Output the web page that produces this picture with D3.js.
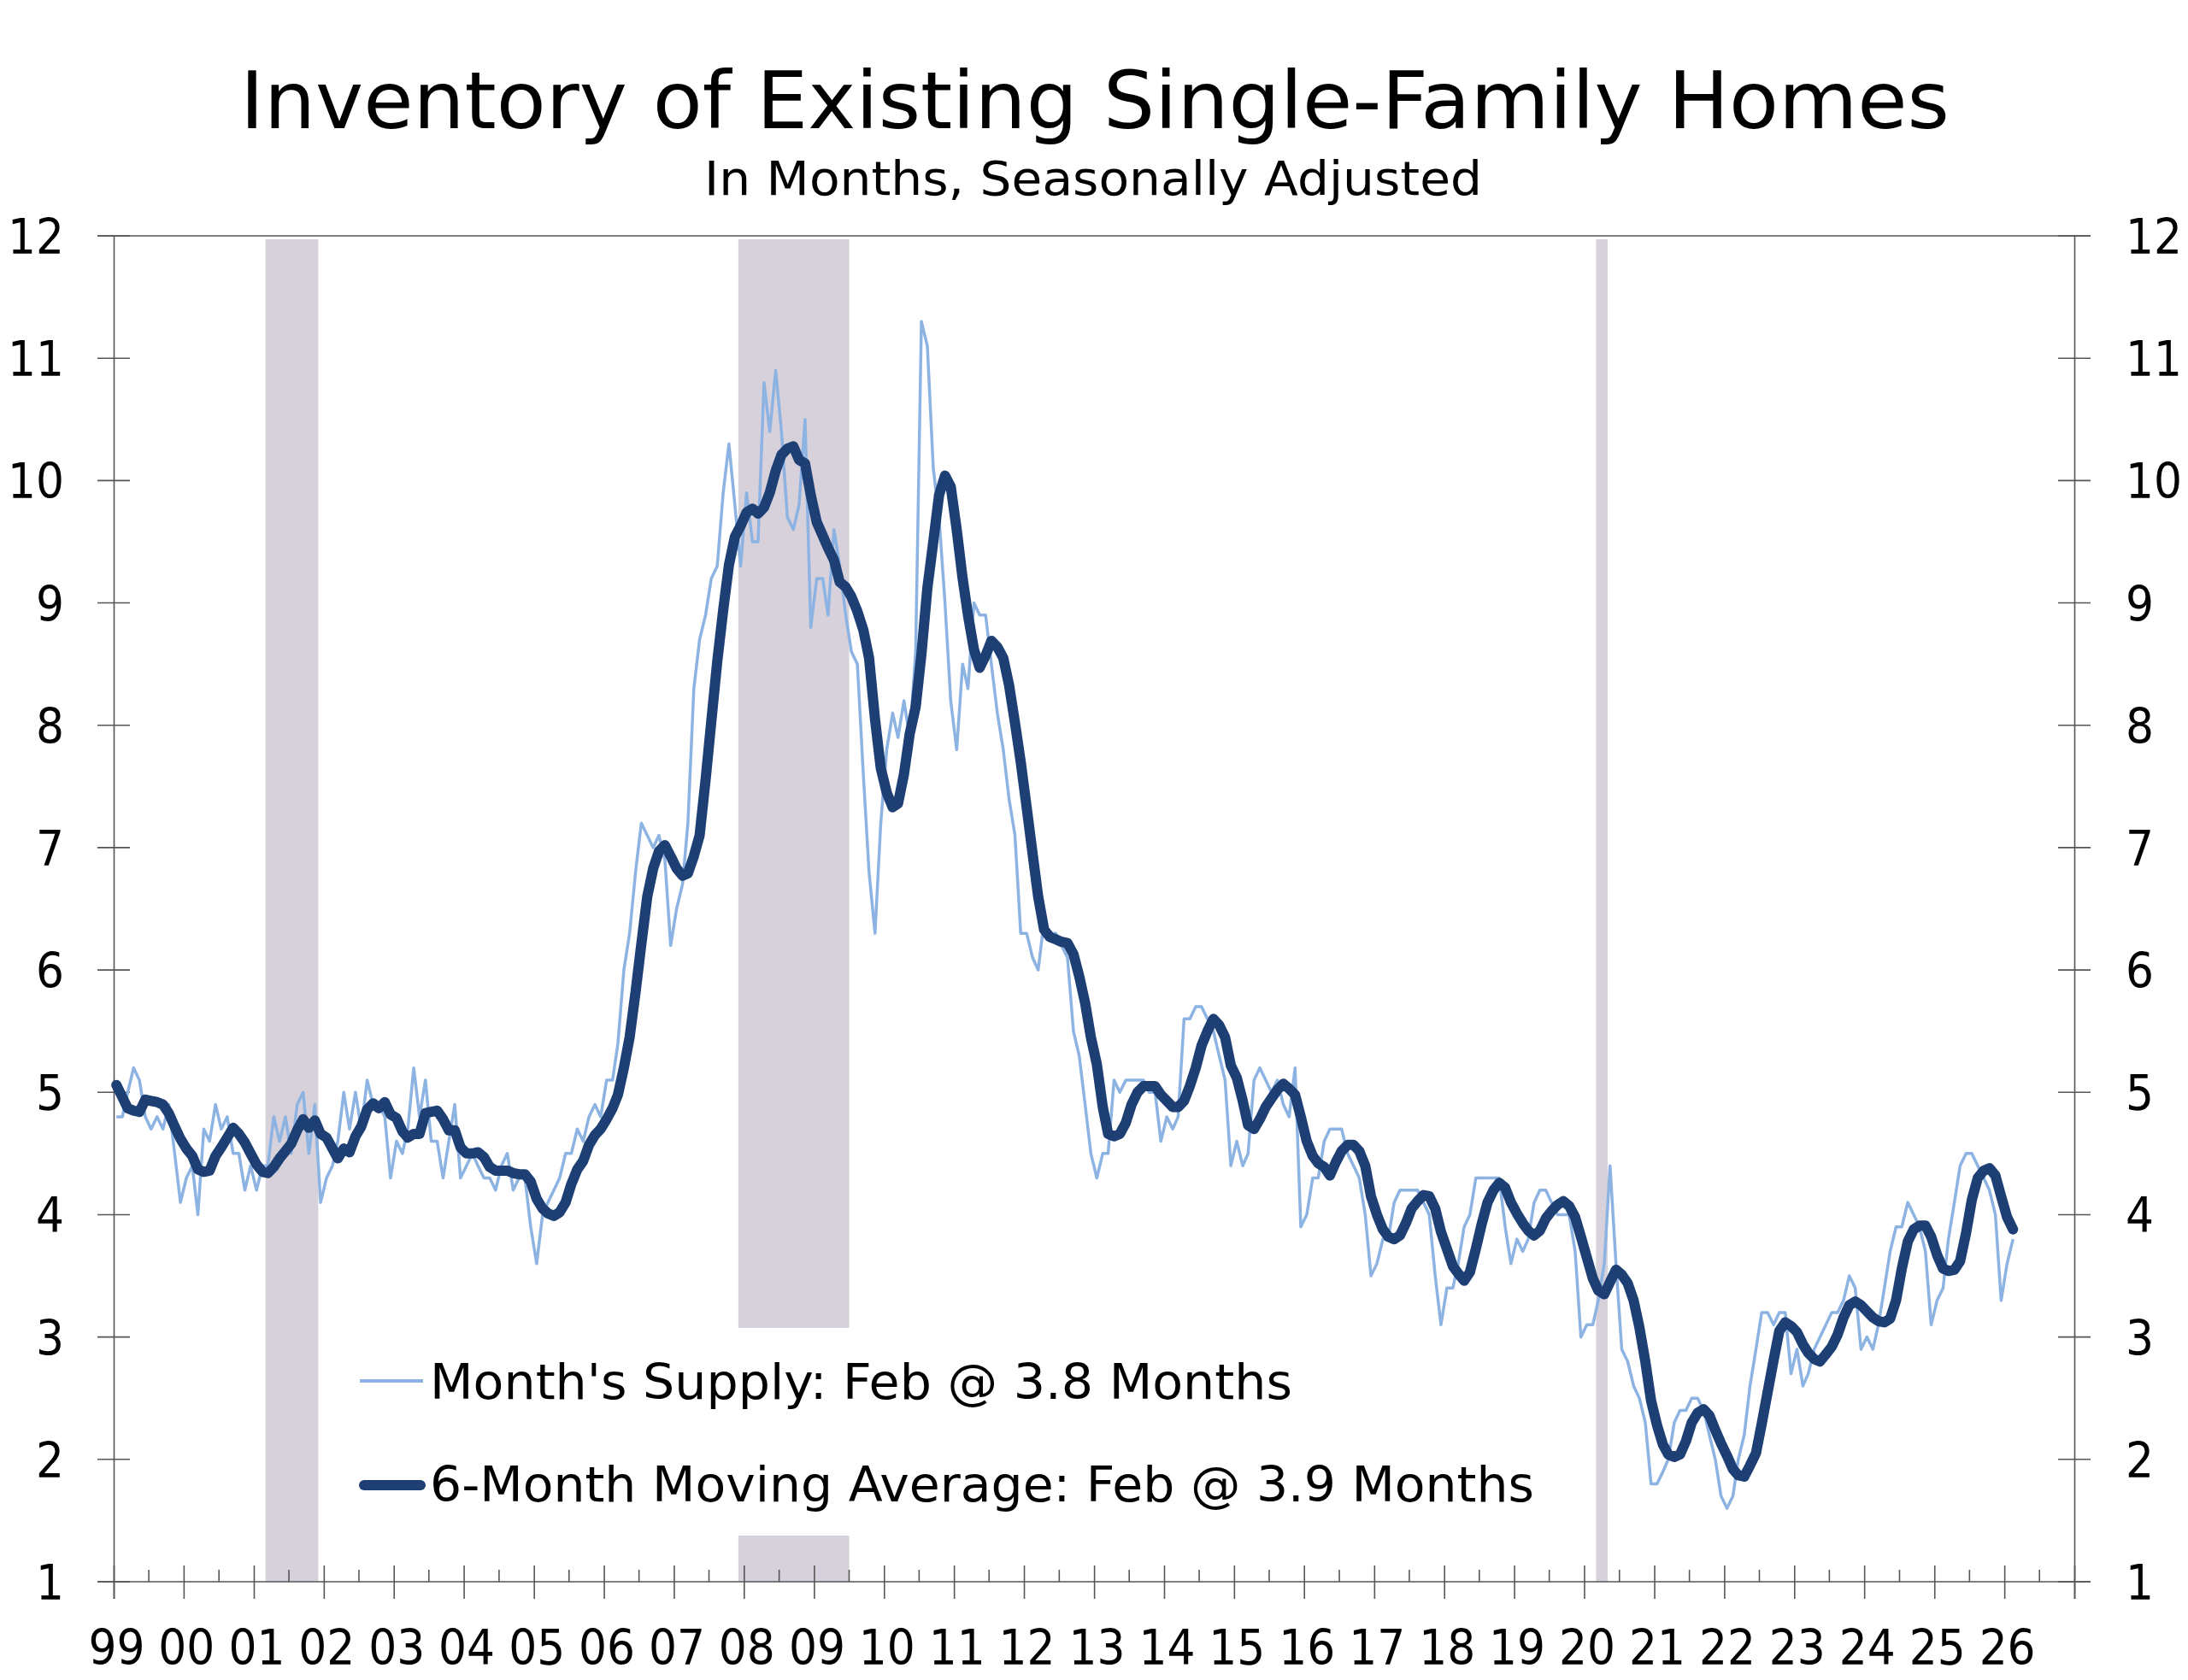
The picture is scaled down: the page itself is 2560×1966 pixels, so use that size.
<!DOCTYPE html>
<html><head><meta charset="utf-8">
<script src="https://cdn.jsdelivr.net/npm/d3@7"></script>
<style>
html,body{margin:0;padding:0;background:#fff;}
svg{display:block;font-family:"DejaVu Sans",Verdana,sans-serif;}
</style></head><body>
<svg id="chart" width="2560" height="1966"></svg>
<script>
const startYear = 1999;
const titleText = "Inventory of Existing Single-Family Homes";
const subtitleText = "In Months, Seasonally Adjusted";
const legendSupply = "Month's Supply: Feb @ 3.8 Months";
const legendAvg = "6-Month Moving Average: Feb @ 3.9 Months";

// Monthly months' supply, Jan 1999 - Feb 2026
const monthsSupply = [
 4.8,4.8,5.0,5.2,5.1,4.8,4.7,4.8,4.7,4.9,4.5,4.1,
 4.3,4.4,4.0,4.7,4.6,4.9,4.7,4.8,4.5,4.5,4.2,4.4,
 4.2,4.4,4.4,4.8,4.6,4.8,4.5,4.9,5.0,4.5,4.9,4.1,
 4.3,4.4,4.6,5.0,4.7,5.0,4.7,5.1,4.9,4.9,4.8,4.3,
 4.6,4.5,4.7,5.2,4.8,5.1,4.6,4.6,4.3,4.6,4.9,4.3,
 4.4,4.5,4.4,4.3,4.3,4.2,4.4,4.5,4.2,4.3,4.3,3.9,
 3.6,4.0,4.1,4.2,4.3,4.5,4.5,4.7,4.6,4.8,4.9,4.8,
 5.1,5.1,5.4,6.0,6.3,6.8,7.2,7.1,7.0,7.1,6.9,6.2,
 6.5,6.7,7.2,8.3,8.7,8.9,9.2,9.3,9.9,10.3,9.8,9.3,
 9.9,9.5,9.5,10.8,10.4,10.9,10.4,9.7,9.6,9.8,10.5,8.8,
 9.2,9.2,8.9,9.6,9.3,8.9,8.6,8.5,7.6,6.8,6.3,7.2,
 7.8,8.1,7.9,8.2,7.9,8.6,11.3,11.1,10.1,9.7,9.0,8.2,
 7.8,8.5,8.3,9.0,8.9,8.9,8.5,8.1,7.8,7.4,7.1,6.3,
 6.3,6.1,6.0,6.4,6.3,6.3,6.2,6.1,5.5,5.3,4.9,4.5,
 4.3,4.5,4.5,5.1,5.0,5.1,5.1,5.1,5.1,5.0,5.0,4.6,
 4.8,4.7,4.8,5.6,5.6,5.7,5.7,5.6,5.5,5.3,5.1,4.4,
 4.6,4.4,4.5,5.1,5.2,5.1,5.0,5.1,4.9,4.8,5.2,3.9,
 4.0,4.3,4.3,4.6,4.7,4.7,4.7,4.5,4.4,4.3,4.0,3.5,
 3.6,3.8,3.8,4.1,4.2,4.2,4.2,4.2,4.1,4.0,3.5,3.1,
 3.4,3.4,3.6,3.9,4.0,4.3,4.3,4.3,4.3,4.3,3.9,3.6,
 3.8,3.7,3.8,4.1,4.2,4.2,4.1,4.0,4.0,4.0,3.7,3.0,
 3.1,3.1,3.3,3.6,4.4,3.6,2.9,2.8,2.6,2.5,2.3,1.8,
 1.8,1.9,2.0,2.3,2.4,2.4,2.5,2.5,2.4,2.2,2.0,1.7,
 1.6,1.7,2.0,2.2,2.6,2.9,3.2,3.2,3.1,3.2,3.2,2.7,
 2.9,2.6,2.7,2.9,3.0,3.1,3.2,3.2,3.3,3.5,3.4,2.9,
 3.0,2.9,3.1,3.4,3.7,3.9,3.9,4.1,4.0,3.9,3.7,3.1,
 3.3,3.4,3.8,4.1,4.4,4.5,4.5,4.4,4.3,4.2,4.0,3.3,
 3.6,3.8
];

// 6-month moving average as drawn, Jan 1999 - Feb 2026
const movingAverage = [
 5.06,4.96,4.87,4.85,4.84,4.94,4.93,4.92,4.90,4.83,4.72,4.62,
 4.54,4.48,4.37,4.35,4.36,4.48,4.55,4.63,4.71,4.66,4.59,4.50,
 4.41,4.35,4.34,4.39,4.46,4.52,4.58,4.69,4.78,4.71,4.77,4.66,
 4.63,4.54,4.46,4.54,4.51,4.64,4.72,4.86,4.91,4.87,4.92,4.82,
 4.79,4.68,4.63,4.66,4.66,4.83,4.84,4.85,4.78,4.69,4.69,4.55,
 4.50,4.50,4.51,4.47,4.39,4.36,4.36,4.36,4.34,4.33,4.33,4.27,
 4.13,4.05,4.01,3.99,4.02,4.10,4.25,4.37,4.44,4.57,4.65,4.70,
 4.78,4.87,4.98,5.20,5.45,5.82,6.21,6.60,6.83,6.97,7.02,6.93,
 6.83,6.77,6.79,6.93,7.10,7.55,8.03,8.52,8.94,9.31,9.54,9.63,
 9.74,9.77,9.73,9.78,9.90,10.08,10.21,10.26,10.28,10.17,10.14,9.88,
 9.66,9.55,9.45,9.35,9.17,9.13,9.05,8.93,8.78,8.55,8.05,7.65,
 7.45,7.33,7.36,7.60,7.93,8.15,8.58,9.12,9.50,9.88,10.04,9.95,
 9.60,9.20,8.90,8.62,8.47,8.57,8.69,8.64,8.55,8.33,8.02,7.70,
 7.33,6.95,6.60,6.33,6.27,6.25,6.23,6.22,6.13,5.95,5.73,5.45,
 5.23,4.88,4.66,4.64,4.66,4.75,4.90,5.00,5.05,5.05,5.05,4.98,
 4.93,4.88,4.88,4.93,5.05,5.20,5.38,5.50,5.60,5.55,5.45,5.22,
 5.12,4.93,4.73,4.70,4.78,4.88,4.95,5.02,5.07,5.03,4.98,4.80,
 4.60,4.48,4.42,4.39,4.32,4.43,4.52,4.57,4.57,4.52,4.40,4.15,
 4.00,3.88,3.82,3.80,3.83,3.93,4.05,4.11,4.16,4.15,4.05,3.86,
 3.72,3.58,3.52,3.46,3.53,3.72,3.92,4.10,4.20,4.26,4.22,4.10,
 4.01,3.93,3.87,3.83,3.87,3.97,4.03,4.08,4.11,4.07,3.98,3.82,
 3.65,3.48,3.38,3.35,3.45,3.55,3.51,3.44,3.30,3.08,2.80,2.48,
 2.28,2.12,2.04,2.02,2.04,2.15,2.30,2.38,2.41,2.36,2.24,2.13,
 2.03,1.92,1.87,1.86,1.95,2.05,2.29,2.55,2.81,3.05,3.12,3.09,
 3.04,2.94,2.87,2.82,2.80,2.86,2.92,3.02,3.16,3.26,3.29,3.26,
 3.21,3.16,3.13,3.12,3.15,3.30,3.56,3.78,3.88,3.91,3.91,3.82,
 3.67,3.56,3.54,3.55,3.62,3.85,4.12,4.30,4.36,4.38,4.32,4.15,
 3.98,3.88
];

const yTicks = [1,2,3,4,5,6,7,8,9,10,11,12];
const yearTicks = d3.range(1999, 2028);
const yearLabels = ["99","00","01","02","03","04","05","06","07","08","09","10","11","12","13",
  "14","15","16","17","18","19","20","21","22","23","24","25","26"];
const recessions = [
  [new Date(2001,2,1), new Date(2001,11,1)],
  [new Date(2007,11,1), new Date(2009,6,1)],
  [new Date(2020,2,1), new Date(2020,4,1)]
];

const C = {light:"#8db3e3", dark:"#1e3f74", rec:"#d6d1da", axis:"#555555"};

const svg = d3.select("#chart");
const x = d3.scaleTime().domain([new Date(1999,0,1), new Date(2027,0,1)]).range([133.5, 2427.5]);
const y = d3.scaleLinear().domain([1,12]).range([1851, 276]);

const dateOf = i => new Date(startYear, i, 13);
const supplyData = monthsSupply.map((v,i)=>({date:dateOf(i), v}));
const avgData = movingAverage.map((v,i)=>({date:dateOf(i), v}));

// recession bars
svg.append("g").selectAll("rect").data(recessions).join("rect")
  .attr("x", d=>x(d[0])).attr("width", d=>x(d[1])-x(d[0]))
  .attr("y", y(12)+4).attr("height", y(1)-y(12)-4)
  .attr("fill", C.rec);

// legend background (covers bars)
svg.append("rect").attr("x",400).attr("y",1554).attr("width",1440).attr("height",243).attr("fill","#fff");

// axes lines
const ax = svg.append("g").attr("stroke", C.axis).attr("stroke-width",1.6).attr("fill","none");
ax.append("line").attr("x1",114).attr("x2",2446).attr("y1",y(12)).attr("y2",y(12));
ax.append("line").attr("x1",114).attr("x2",2446).attr("y1",y(1)).attr("y2",y(1));
ax.append("line").attr("x1",x.range()[0]).attr("x2",x.range()[0]).attr("y1",y(12)).attr("y2",y(1)+20);
ax.append("line").attr("x1",x.range()[1]).attr("x2",x.range()[1]).attr("y1",y(12)).attr("y2",y(1)+20);
// y ticks both sides
ax.selectAll("line.yl").data(yTicks).join("line").attr("class","yl")
  .attr("x1",114).attr("x2",152).attr("y1",d=>y(d)).attr("y2",d=>y(d));
ax.selectAll("line.yr").data(yTicks).join("line").attr("class","yr")
  .attr("x1",2408).attr("x2",2446).attr("y1",d=>y(d)).attr("y2",d=>y(d));
// x major ticks
ax.selectAll("line.xm").data(yearTicks).join("line").attr("class","xm")
  .attr("x1",d=>x(new Date(d,0,1))).attr("x2",d=>x(new Date(d,0,1)))
  .attr("y1",y(1)-19).attr("y2",y(1)+20);
// x minor ticks (mid-year)
ax.selectAll("line.xn").data(yearTicks.slice(0,-1)).join("line").attr("class","xn")
  .attr("x1",d=>x(new Date(d,6,1))).attr("x2",d=>x(new Date(d,6,1)))
  .attr("y1",y(1)-14).attr("y2",y(1));

// lines
const line = d3.line().x(d=>x(d.date)).y(d=>y(d.v));
svg.append("path").datum(supplyData).attr("d",line)
  .attr("fill","none").attr("stroke",C.light).attr("stroke-width",3.5).attr("stroke-linejoin","round");
svg.append("path").datum(avgData).attr("d",line)
  .attr("fill","none").attr("stroke",C.dark).attr("stroke-width",12)
  .attr("stroke-linejoin","round").attr("stroke-linecap","round");

// y labels
const tl = svg.append("g").attr("fill","#000").attr("font-size",57);
tl.selectAll("text.l").data(yTicks).join("text").attr("class","l")
  .attr("x",75).attr("y",d=>y(d)+21).attr("text-anchor","end")
  .attr("textLength",d=>String(d).length*33).attr("lengthAdjust","spacingAndGlyphs")
  .text(d=>d);
tl.selectAll("text.r").data(yTicks).join("text").attr("class","r")
  .attr("x",2487).attr("y",d=>y(d)+21).attr("text-anchor","start")
  .attr("textLength",d=>String(d).length*33).attr("lengthAdjust","spacingAndGlyphs")
  .text(d=>d);
// x labels
tl.selectAll("text.x").data(yearLabels).join("text").attr("class","x")
  .attr("x",(d,i)=>x(new Date(startYear+i,0,1))+3).attr("y",1948).attr("text-anchor","middle")
  .attr("textLength",66).attr("lengthAdjust","spacingAndGlyphs")
  .text(d=>d);

// title
svg.append("text").attr("x",1281).attr("y",150).attr("text-anchor","middle")
  .attr("font-size",93).attr("textLength",2000).attr("lengthAdjust","spacingAndGlyphs").text(titleText);
svg.append("text").attr("x",1279).attr("y",228).attr("text-anchor","middle")
  .attr("font-size",56).attr("textLength",910).attr("lengthAdjust","spacingAndGlyphs").text(subtitleText);

// legend
const lg = svg.append("g");
lg.append("line").attr("x1",421).attr("x2",495).attr("y1",1616).attr("y2",1616)
  .attr("stroke",C.light).attr("stroke-width",4);
lg.append("line").attr("x1",426).attr("x2",492).attr("y1",1738).attr("y2",1738)
  .attr("stroke",C.dark).attr("stroke-width",12).attr("stroke-linecap","round");
lg.append("text").attr("x",503).attr("y",1637).attr("font-size",57)
  .attr("textLength",1009).attr("lengthAdjust","spacingAndGlyphs").text(legendSupply);
lg.append("text").attr("x",503).attr("y",1757).attr("font-size",57)
  .attr("textLength",1292).attr("lengthAdjust","spacingAndGlyphs").text(legendAvg);
</script>
</body></html>
